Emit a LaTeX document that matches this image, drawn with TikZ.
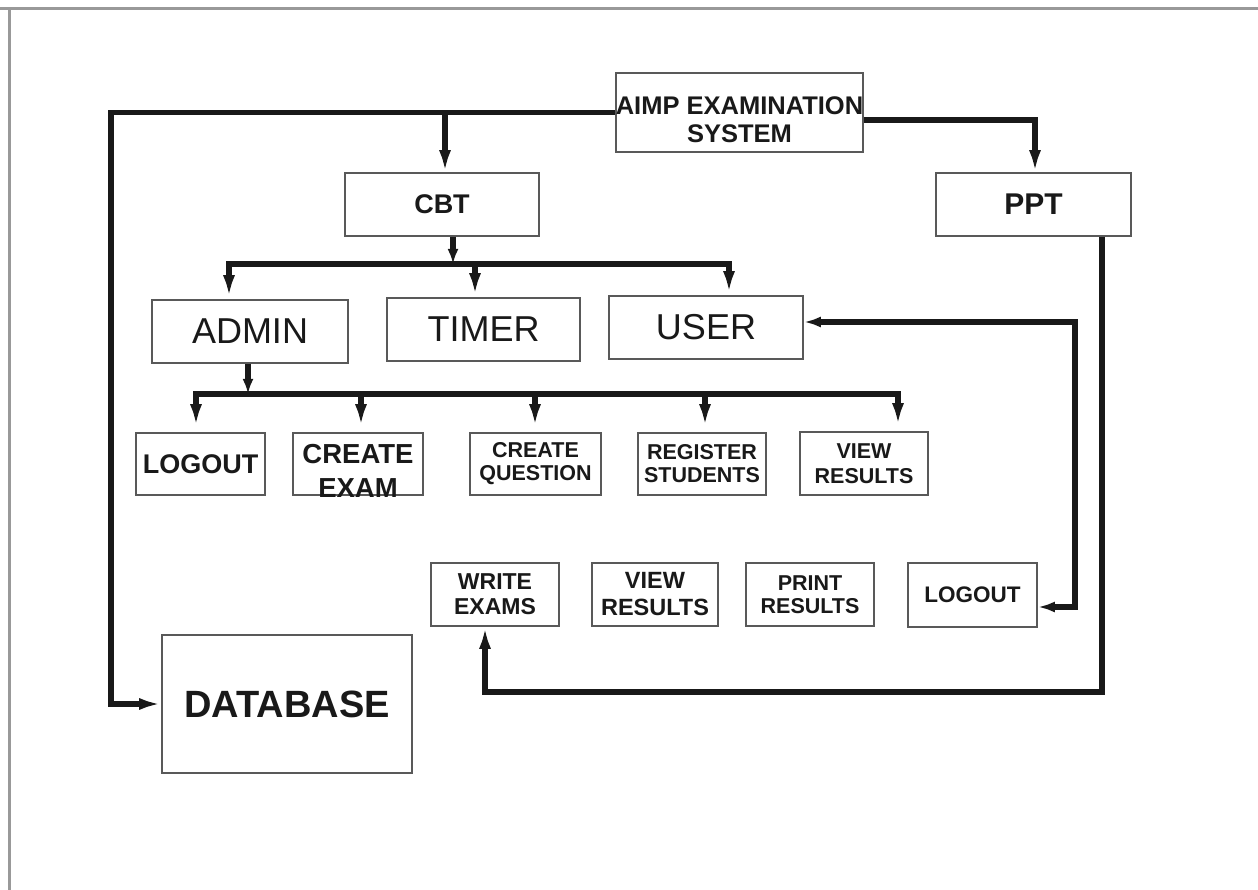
\documentclass[tikz,border=0pt]{standalone}
\usepackage{fontspec}
\setmainfont{Liberation Sans}
\usetikzlibrary{arrows.meta}
\begin{document}
\begin{tikzpicture}[x=1pt,y=-1pt,
  box/.style={draw=black!65,line width=1.6pt,fill=white,inner sep=0pt,align=center,text=black!90},
  txt/.style={inner sep=0pt,align=center,text=black!90},
  conn/.style={line width=5.2pt,black!90,line join=miter,line cap=butt},
  arr/.style={conn,-{Latex[length=22pt,width=12pt]}},
  sarr/.style={conn,-{Latex[length=15pt,width=11pt]}},
  darr/.style={conn,{Latex[length=17pt,width=11pt]}-{Latex[length=17pt,width=11pt]}}
]
\useasboundingbox (0,0) rectangle (1258,890);
\fill[white] (0,0) rectangle (1258,890);
% frame
\draw[black!40,line width=3pt] (0,9) -- (1258,9);
\draw[black!40,line width=3pt] (9,9) -- (9,890);

% boxes
\node[box,minimum width=247pt,minimum height=79pt] (aimp) at (739.5,112.5) {};
\node[txt,font={\bfseries\fontsize{25.5}{28}\selectfont}] (aimpt) at ([yshift=-7pt]aimp.center) {AIMP EXAMINATION\\SYSTEM};
\node[box,minimum width=194pt,minimum height=63pt,font={\bfseries\fontsize{27}{30}\selectfont}] (cbt) at (442,204.5) {CBT};
\node[box,minimum width=195pt,minimum height=63pt,font={\bfseries\fontsize{30}{33}\selectfont}] (ppt) at (1033.5,204.5) {PPT};
\node[box,minimum width=196pt,minimum height=63pt,font={\fontsize{36}{38}\selectfont}] (admin) at (250,331.5) {ADMIN};
\node[box,minimum width=193pt,minimum height=63pt,font={\fontsize{36}{38}\selectfont}] (timer) at (483.5,329.5) {TIMER};
\node[box,minimum width=194pt,minimum height=63pt,font={\fontsize{36}{38}\selectfont}] (user) at (706,327.5) {USER};

\node[box,minimum width=129pt,minimum height=62pt,font={\bfseries\fontsize{27}{30}\selectfont}] (lo1) at (200.5,464) {LOGOUT};
\node[box,minimum width=130pt,minimum height=62pt] (ce) at (358,464) {};
\node[txt,font={\bfseries\fontsize{27.5}{34}\selectfont}] (cet) at ([yshift=-7pt]ce.center) {CREATE\\EXAM};
\node[box,minimum width=131pt,minimum height=62pt,font={\bfseries\fontsize{21.5}{23}\selectfont}] (cq) at (535.5,464) {CREATE\\QUESTION};
\node[box,minimum width=128pt,minimum height=62pt,font={\bfseries\fontsize{21.5}{23}\selectfont}] (rs) at (702,464) {REGISTER\\STUDENTS};
\node[box,minimum width=128pt,minimum height=63pt,font={\bfseries\fontsize{21.5}{25}\selectfont}] (vr1) at (864,463.5) {VIEW\\RESULTS};

\node[box,minimum width=128pt,minimum height=63pt,font={\bfseries\fontsize{23}{25}\selectfont}] (we) at (495,594.5) {WRITE\\EXAMS};
\node[box,minimum width=126pt,minimum height=63pt,font={\bfseries\fontsize{23.5}{27}\selectfont}] (vr2) at (655,594.5) {VIEW\\RESULTS};
\node[box,minimum width=128pt,minimum height=63pt,font={\bfseries\fontsize{21.5}{23}\selectfont}] (pr) at (810,594.5) {PRINT\\RESULTS};
\node[box,minimum width=129pt,minimum height=64pt,font={\bfseries\fontsize{22.5}{25}\selectfont}] (lo2) at (972.5,595) {LOGOUT};

\node[box,minimum width=250pt,minimum height=138pt,font={\bfseries\fontsize{38}{42}\selectfont}] (db) at (287,704) {DATABASE};

% coordinates
\coordinate (dbl) at (111,400);
\coordinate (cbtj) at (445,112.5);
\coordinate (bus1) at (453,264);
\coordinate (b1a) at (229,264);
\coordinate (b1b) at (475,264);
\coordinate (b1c) at (729,264);
\coordinate (bus2) at (248,394);
\coordinate (d1) at (196,394);
\coordinate (d2) at (361,394);
\coordinate (d3) at (535,394);
\coordinate (d4) at (705,394);
\coordinate (d5) at (898,394);
\coordinate (ul) at (1075,322);
\coordinate (ll) at (1075,607);
\coordinate (pc) at (1102,692);
\coordinate (wc) at (485,692);

% connectors
\draw[arr] (aimp.west) -| (dbl) |- (db.west);
\draw[arr] (cbtj) -- (cbtj |- cbt.north);
\draw[arr] ([yshift=-7.5pt]aimp.east) -| ([xshift=1.5pt]ppt.north);

\draw[sarr] (cbt.south -| bus1) -- (bus1);
\draw[arr,shorten >=2pt] (bus1) -- (b1a) -- (b1a |- admin.north);
\draw[arr,shorten >=2pt] (bus1) -- (b1c) -- (b1c |- user.north);
\draw[arr,shorten >=2pt] (b1b) -- (b1b |- timer.north);

\draw[sarr] (admin.south -| bus2) -- (bus2);
\draw[arr,shorten >=6pt] (bus2) -- (d1) -- (d1 |- lo1.north);
\draw[arr,shorten >=6pt] (bus2) -- (d5) -- (d5 |- vr1.north);
\draw[arr,shorten >=6pt] (d2) -- (d2 |- ce.north);
\draw[arr,shorten >=6pt] (d3) -- (d3 |- cq.north);
\draw[arr,shorten >=6pt] (d4) -- (d4 |- rs.north);

\draw[darr] (ul -| user.east) -- (ul) -- (ll) -- (ll -| lo2.east);
\draw[arr] (ppt.south -| pc) -- (pc) -- (wc) -- (wc |- we.south);
\end{tikzpicture}
\end{document}
